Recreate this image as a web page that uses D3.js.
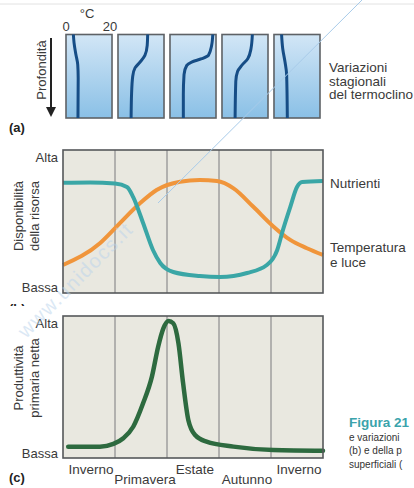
<!DOCTYPE html>
<html><head><meta charset="utf-8">
<script src="https://cdn.jsdelivr.net/npm/d3@7"></script>
<style>
html,body{margin:0;padding:0;background:#fff;overflow:hidden}
text{font-family:"Liberation Sans",Arial,sans-serif;fill:#3a3a3a}
</style></head>
<body><svg id="c" width="414" height="488"></svg>
<script>
// ---------- DATA ----------
const seasons = ["Inverno","Primavera","Estate","Autunno","Inverno"];
const profileSeasons = ["Inverno1","Primavera","Estate","Autunno","Inverno2"];
// thermocline profiles: depth fraction (0 surface → 1 bottom) and temperature (°C)
const depth1 = [0, 0.10, 0.24, 0.36, 0.52, 1.0];
const temp1  = [3.2, 3.5, 4.3, 5.1, 5.3, 5.2];
const depth2 = [0, 0.13, 0.25, 0.33, 0.40, 0.50, 0.71, 1.0];
const temp2  = [12.9, 12.7, 11.7, 9.6, 7.4, 6.4, 5.9, 5.7];
const depth3 = [0, 0.13, 0.25, 0.29, 0.33, 0.37, 0.48, 0.72, 1.0];
const temp3  = [18.6, 18.1, 16.7, 13.8, 9.4, 7.3, 6.1, 5.8, 5.8];
const depth4 = [0, 0.17, 0.29, 0.37, 0.44, 0.56, 1.0];
const temp4  = [13.2, 12.6, 11.2, 8.6, 6.8, 6.0, 5.7];
const depth5 = [0, 0.17, 0.33, 0.48, 1.0];
const temp5  = [3.3, 3.8, 4.8, 5.5, 5.8];
const tempTicks = [0, 20];

// panel b: time (0..5 season units) and resource availability (0..100)
const nutT = [0, 0.52, 1.0, 1.23, 1.35, 1.54, 1.73, 1.87, 2.12, 2.63, 3.02, 3.54, 3.92, 4.12, 4.23, 4.37, 4.50, 4.60, 5.0];
const nutV = [77.1, 77.3, 76.6, 74.1, 67.1, 49.0, 30.1, 21.0, 14.7, 11.9, 11.2, 14.0, 19.6, 30.1, 44.1, 60.1, 74.1, 77.6, 78.3];
const tempT = [0, 0.71, 1.03, 1.48, 1.80, 2.25, 2.63, 2.96, 3.28, 3.66, 4.05, 4.37, 4.69, 5.0];
const tempV = [19.6, 34.8, 46.4, 62.7, 72.0, 77.8, 79.0, 78.3, 73.2, 60.3, 46.4, 37.1, 31.3, 26.6];
// panel c: net primary productivity
const ppT = [0.10, 0.71, 0.97, 1.16, 1.35, 1.54, 1.71, 1.83, 1.93, 2.03, 2.12, 2.22, 2.31, 2.41, 2.54, 2.76, 3.28, 4.04, 5.0];
const ppV = [8.0, 8.0, 9.9, 13.9, 22.0, 38.5, 57.3, 78.4, 91.3, 96.5, 94.9, 80.8, 52.6, 26.8, 16.2, 11.5, 8.0, 5.6, 5.1];
const levelVals = [4, 95];
const levelLabels = ["Bassa", "Alta"];
const ppLevelVals = [3, 95];

// ---------- DRAW ----------
const svg = d3.select("#c");
const defs = svg.append("defs");
const grad = defs.append("linearGradient").attr("id","wg").attr("x1",0).attr("y1",0).attr("x2",0).attr("y2",1);
grad.append("stop").attr("offset","0%").attr("stop-color","#d2e6f6");
grad.append("stop").attr("offset","100%").attr("stop-color","#8ac0e6");

// top faint rule
svg.append("line").attr("x1",0).attr("x2",414).attr("y1",4).attr("y2",4).attr("stroke","#e2e2e2");

// ---- Panel (a) ----
const bandA = d3.scaleBand().domain(profileSeasons).range([66, 320]).paddingInner(0.115);
const yDepth = d3.scaleLinear().domain([0,1]).range([34.5, 118]);
const profiles = [[depth1,temp1],[depth2,temp2],[depth3,temp3],[depth4,temp4],[depth5,temp5]];
const gA = svg.append("g");
profileSeasons.forEach((s,i)=>{
  const x0 = bandA(s);
  const xT = d3.scaleLinear().domain([0,20]).range([x0, x0+bandA.bandwidth()]);
  gA.append("rect").attr("x",x0).attr("y",yDepth(0)).attr("width",bandA.bandwidth())
    .attr("height",yDepth(1)-yDepth(0)).attr("fill","url(#wg)").attr("stroke","#5e6266").attr("stroke-width",1.6);
  const [dep,tmp] = profiles[i];
  const pts = dep.map((d,j)=>[xT(tmp[j]), yDepth(d)]);
  gA.append("path").attr("d", d3.line().curve(d3.curveMonotoneY)(pts))
    .attr("fill","none").attr("stroke","#164d86").attr("stroke-width",3).attr("stroke-linecap","butt");
  if(i===0){
    tempTicks.forEach(t=>{
      gA.append("text").attr("x", xT(t) + (t===0?0:-2)).attr("y",31).attr("text-anchor","middle")
        .attr("font-size",13).text(t);
    });
    gA.append("text").attr("x", xT(10)-2).attr("y",18).attr("text-anchor","middle").attr("font-size",13).text("°C");
  }
});
// depth arrow
gA.append("line").attr("x1",51).attr("x2",51).attr("y1",38).attr("y2",108).attr("stroke","#222").attr("stroke-width",2);
gA.append("path").attr("d","M46,107 L56,107 L51,117 Z").attr("fill","#222");
gA.append("text").attr("transform","translate(41,70) rotate(-90)").attr("text-anchor","middle")
  .attr("dominant-baseline","central").attr("font-size",13).text("Profondità");
["Variazioni","stagionali","del termoclino"].forEach((t,i)=>{
  gA.append("text").attr("x",329).attr("y",72+i*13.7).attr("font-size",13.5).text(t);
});
svg.append("text").attr("x",9).attr("y",132).attr("font-size",13).attr("font-weight","bold").style("fill","#222").text("(a)");

// ---- shared x ----
const x = d3.scaleLinear().domain([0,5]).range([63,323]);

function panel(top, bottom, titleLines, titleY){
  const y = d3.scaleLinear().domain([0,100]).range([bottom, top]);
  const g = svg.append("g");
  g.append("rect").attr("x",x(0)).attr("y",top).attr("width",x(5)-x(0)).attr("height",bottom-top)
    .attr("fill","#e9e8e0");
  [1,2,3,4].forEach(v=>{
    g.append("line").attr("x1",x(v)).attr("x2",x(v)).attr("y1",top).attr("y2",bottom)
      .attr("stroke","#9a9a9a").attr("stroke-width",1.4);
  });
  titleLines.forEach((t,i)=>{
    g.append("text").attr("transform",`translate(${18+i*16},${titleY}) rotate(-90)`).attr("text-anchor","middle")
      .attr("dominant-baseline","central").attr("font-size",13).text(t);
  });
  return {g,y};
}

// ---- Panel (b) ----
const pb = panel(150, 293, ["Disponibilità","della risorsa"], 216);
const lineB = d3.line().curve(d3.curveMonotoneX).x(d=>x(d[0])).y(d=>pb.y(d[1]));
pb.g.append("path").attr("d", lineB(tempT.map((t,i)=>[t,tempV[i]])))
  .attr("fill","none").attr("stroke","#f0953b").attr("stroke-width",4);
pb.g.append("path").attr("d", lineB(nutT.map((t,i)=>[t,nutV[i]])))
  .attr("fill","none").attr("stroke","#3aa6a6").attr("stroke-width",4);
pb.g.append("rect").attr("x",x(0)).attr("y",150).attr("width",x(5)-x(0)).attr("height",143)
  .attr("fill","none").attr("stroke","#55585a").attr("stroke-width",1.6);
const axB = pb.g.append("g").attr("transform",`translate(${x(0)},0)`)
  .call(d3.axisLeft(pb.y).tickValues(levelVals).tickSize(0).tickPadding(5).tickFormat((d,i)=>levelLabels[i]));
axB.select(".domain").remove();
axB.selectAll("text").attr("font-size",13).style("font-family","Liberation Sans, Arial, sans-serif").attr("fill","#3a3a3a");
pb.g.append("text").attr("x",330).attr("y",188).attr("font-size",13.5).text("Nutrienti");
pb.g.append("text").attr("x",330).attr("y",252).attr("font-size",13.5).text("Temperatura");
pb.g.append("text").attr("x",330).attr("y",267).attr("font-size",13.5).text("e luce");

// (b) label, partially hidden
defs.append("clipPath").attr("id","cb").append("rect").attr("x",0).attr("y",290).attr("width",60).attr("height",16);
svg.append("text").attr("x",9).attr("y",313).attr("font-size",13).attr("font-weight","bold")
  .attr("clip-path","url(#cb)").style("fill","#222").text("(b)");

// ---- Panel (c) ----
const pc = panel(316, 458, ["Produttività","primaria netta"], 378);
const lineC = d3.line().curve(d3.curveMonotoneX).x(d=>x(d[0])).y(d=>pc.y(d[1]));
pc.g.append("path").attr("d", lineC(ppT.map((t,i)=>[t,ppV[i]])))
  .attr("fill","none").attr("stroke","#2d6a3f").attr("stroke-width",4.5).attr("stroke-linecap","round");
pc.g.append("rect").attr("x",x(0)).attr("y",316).attr("width",x(5)-x(0)).attr("height",142)
  .attr("fill","none").attr("stroke","#55585a").attr("stroke-width",1.6);
const axC = pc.g.append("g").attr("transform",`translate(${x(0)},0)`)
  .call(d3.axisLeft(pc.y).tickValues(ppLevelVals).tickSize(0).tickPadding(5).tickFormat((d,i)=>levelLabels[i]));
axC.select(".domain").remove();
axC.selectAll("text").attr("font-size",13).style("font-family","Liberation Sans, Arial, sans-serif").attr("fill","#3a3a3a");

// season labels
seasons.forEach((s,i)=>{
  svg.append("text").attr("x", x(i+0.5)+ (i===1?4:2)).attr("y", i%2===0 ? 474 : 484)
    .attr("text-anchor","middle").attr("font-size",13.5).text(s);
});
svg.append("text").attr("x",9).attr("y",482).attr("font-size",13).attr("font-weight","bold").style("fill","#222").text("(c)");

// caption fragment (as visible at the right edge)
svg.append("text").attr("x",349).attr("y",427).attr("font-size",13.5).attr("font-weight","bold").style("fill","#3aa3ab").text("Figura 21");
["e variazioni","(b) e della p","superficiali ("].forEach((t,i)=>{
  svg.append("text").attr("x",349).attr("y",441+i*13.3).attr("font-size",10).style("fill","#333").text(t);
});

// watermark
svg.append("line").attr("x1",362).attr("y1",0).attr("x2",158).attr("y2",203)
  .attr("stroke","#a8cbe9").attr("stroke-width",1);
svg.append("text").attr("transform","translate(26,339) rotate(-45)").attr("font-size",20).attr("letter-spacing",1.5)
  .style("fill","#b9d3ec").attr("opacity",0.5).text("www.unidocs.it");
</script></body></html>
